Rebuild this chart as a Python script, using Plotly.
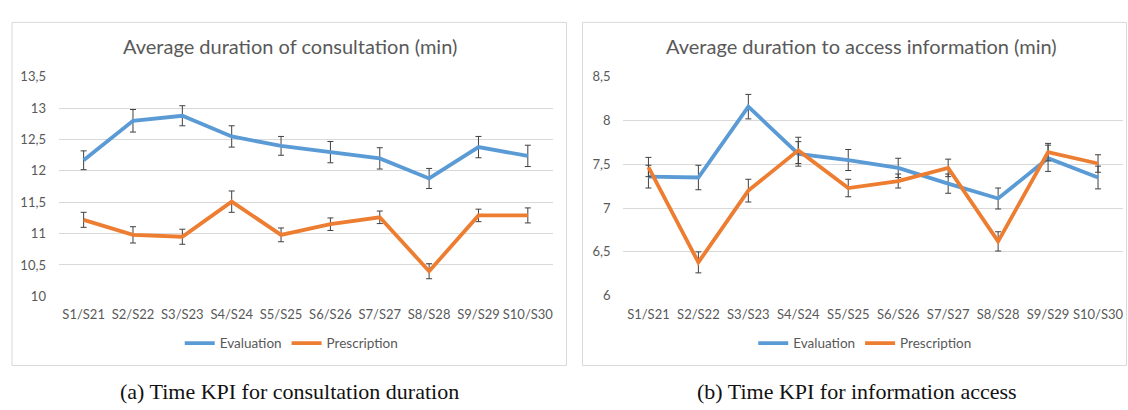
import plotly.graph_objects as go

categories = ["S1/S21", "S2/S22", "S3/S23", "S4/S24", "S5/S25",
              "S6/S26", "S7/S27", "S8/S28", "S9/S29", "S10/S30"]

# (a) Average duration of consultation (min)
cons_eval = [12.17, 12.80, 12.88, 12.55, 12.40, 12.30, 12.20, 11.88, 12.38, 12.24]
cons_eval_err = [0.15, 0.18, 0.16, 0.17, 0.15, 0.17, 0.17, 0.16, 0.17, 0.17]
cons_presc = [11.22, 10.98, 10.95, 11.51, 10.98, 11.15, 11.26, 10.40, 11.29, 11.29]
cons_presc_err = [0.12, 0.13, 0.12, 0.17, 0.11, 0.10, 0.10, 0.12, 0.10, 0.12]

# (b) Average duration to access information (min)
info_eval = [7.36, 7.35, 8.16, 7.62, 7.55, 7.46, 7.28, 7.11, 7.57, 7.35]
info_eval_err = [0.13, 0.14, 0.14, 0.14, 0.12, 0.11, 0.11, 0.12, 0.15, 0.13]
info_presc = [7.47, 6.38, 7.20, 7.66, 7.23, 7.31, 7.46, 6.62, 7.64, 7.51]
info_presc_err = [0.11, 0.12, 0.13, 0.15, 0.10, 0.08, 0.10, 0.11, 0.10, 0.10]

cons_ticks = [10, 10.5, 11, 11.5, 12, 12.5, 13, 13.5]
cons_ticklabels = ["10", "10,5", "11", "11,5", "12", "12,5", "13", "13,5"]
info_ticks = [6, 6.5, 7, 7.5, 8, 8.5]
info_ticklabels = ["6", "6,5", "7", "7,5", "8", "8,5"]

titles = ["Average duration of consultation (min)",
          "Average duration to access information (min)"]
captions = ["(a) Time KPI for consultation duration",
            "(b) Time KPI for information access"]
series_names = ["Evaluation", "Prescription"]

BLUE = "#5B9BD5"
ORANGE = "#ED7D31"
GRID = "#D9D9D9"
TXT = "#595959"
FONT = "Lato, Noto Sans, sans-serif"
SERIF = "Liberation Serif, Times New Roman, serif"

W, H = 1128, 410


def px(x):
    return x / W


def py(y):
    return 1 - y / H


fig = go.Figure()

def add(xa, ya, leg, y, err, name, color):
    fig.add_trace(go.Scatter(
        x=categories, y=y, name=name, mode="lines",
        line=dict(color=color, width=3.8),
        error_y=dict(type="data", array=err, visible=True,
                     color="#404040", thickness=1, width=3),
        xaxis=xa, yaxis=ya, legend=leg, hoverinfo="skip"))

add("x", "y", "legend", cons_eval, cons_eval_err, series_names[0], BLUE)
add("x", "y", "legend", cons_presc, cons_presc_err, series_names[1], ORANGE)
add("x2", "y2", "legend2", info_eval, info_eval_err, series_names[0], BLUE)
add("x2", "y2", "legend2", info_presc, info_presc_err, series_names[1], ORANGE)

xcommon = dict(type="category", range=[-0.5, 9.5], showgrid=False,
               zeroline=False, showline=False, ticks="", ticklabelstandoff=9,
               tickfont=dict(family=FONT, size=13, color=TXT), fixedrange=True)
ycommon = dict(showgrid=True, gridcolor=GRID, gridwidth=1, zeroline=False,
               showline=False, ticks="", ticklabelstandoff=12,
               tickfont=dict(family=FONT, size=13, color=TXT), fixedrange=True)

legfont = dict(family=FONT, size=13.5, color=TXT)

fig.update_layout(
    width=W, height=H,
    margin=dict(l=0, r=0, t=0, b=0),
    paper_bgcolor="white", plot_bgcolor="white",
    showlegend=True,
    xaxis=dict(domain=[px(59), px(553)], anchor="y", **xcommon),
    yaxis=dict(domain=[py(300), py(71.7)], anchor="x", range=[10, 13.5],
               tickvals=cons_ticks, ticktext=cons_ticklabels, **ycommon),
    xaxis2=dict(domain=[px(624), px(1124)], anchor="y2", **xcommon),
    yaxis2=dict(domain=[py(299.3), py(71.7)], anchor="x2", range=[6, 8.5],
                tickvals=info_ticks, ticktext=info_ticklabels, **ycommon),
    legend=dict(orientation="h", x=px(292), y=py(349), xanchor="center",
                yanchor="middle", font=legfont,
                bgcolor="rgba(0,0,0,0)", itemwidth=30, tracegroupgap=0),
    legend2=dict(orientation="h", x=px(866), y=py(349), xanchor="center",
                 yanchor="middle", font=legfont,
                 bgcolor="rgba(0,0,0,0)", itemwidth=30, tracegroupgap=0),
    shapes=[
        dict(type="rect", xref="paper", yref="paper", x0=px(12), x1=px(567),
             y0=py(372), y1=py(15), line=dict(color=GRID, width=1),
             fillcolor="rgba(0,0,0,0)", layer="below"),
        dict(type="rect", xref="paper", yref="paper", x0=px(583), x1=px(1127.5),
             y0=py(372), y1=py(15), line=dict(color=GRID, width=1),
             fillcolor="rgba(0,0,0,0)", layer="below"),
    ],
    annotations=[
        dict(text=titles[0], xref="paper", yref="paper", x=px(290), y=py(40),
             xanchor="center", yanchor="middle", showarrow=False,
             font=dict(family=FONT, size=20, color=TXT)),
        dict(text=titles[1], xref="paper", yref="paper", x=px(862), y=py(40),
             xanchor="center", yanchor="middle", showarrow=False,
             font=dict(family=FONT, size=20, color=TXT)),
        dict(text=captions[0], xref="paper", yref="paper", x=px(290), y=py(399),
             xanchor="center", yanchor="middle", showarrow=False,
             font=dict(family=SERIF, size=22, color="#111111")),
        dict(text=captions[1], xref="paper", yref="paper", x=px(858), y=py(399),
             xanchor="center", yanchor="middle", showarrow=False,
             font=dict(family=SERIF, size=22, color="#111111")),
    ],
)

fig.write_html(
    "out.html",
    config={"displayModeBar": False, "responsive": False},
    post_script="document.body.style.margin='0';document.body.style.overflow='hidden';",
)
